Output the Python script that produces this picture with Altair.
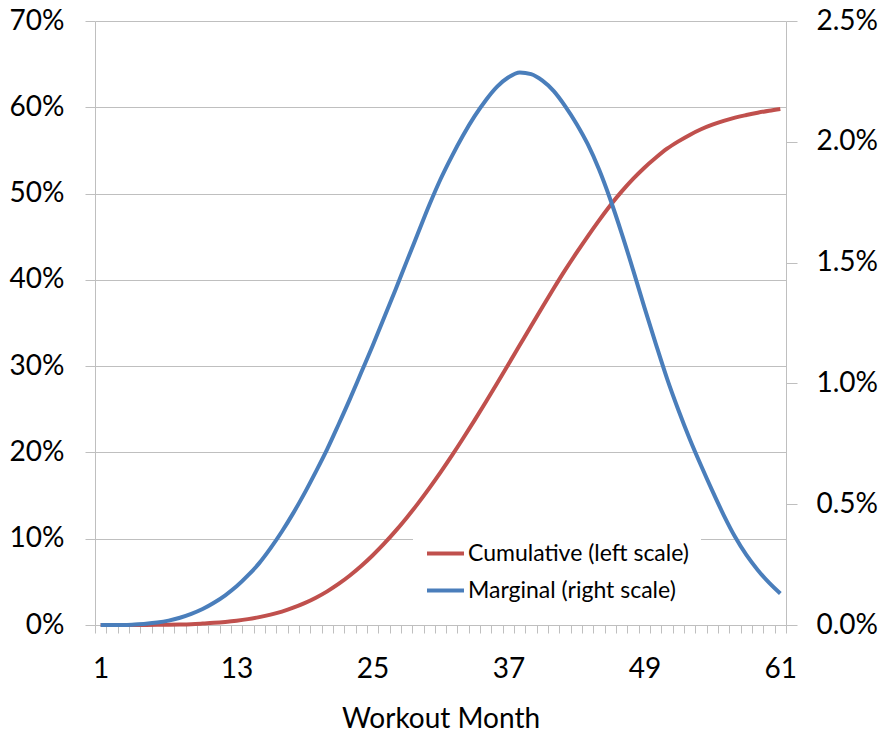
import altair as alt
import pandas as pd

# Workout month index (1..61)
months = list(range(1, 62))

# Cumulative share, percent (left scale)
cumulative_pct = [
    0, 0, 0, 0.005, 0.01, 0.02, 0.035, 0.06, 0.1, 0.17,
    0.25, 0.36, 0.5, 0.68, 0.91, 1.2, 1.56, 2.0, 2.53, 3.16,
    3.9, 4.76, 5.74, 6.84, 8.06, 9.4, 10.85, 12.41, 14.07, 15.83,
    17.68, 19.62, 21.64, 23.72, 25.85, 28.02, 30.22, 32.44, 34.66, 36.86,
    39.02, 41.12, 43.12, 45.05, 46.9, 48.65, 50.25, 51.7, 53.0, 54.15,
    55.2, 56.05, 56.8, 57.45, 57.98, 58.42, 58.8, 59.1, 59.37, 59.6, 59.8,
]

# Marginal share, percent (right scale)
marginal_pct = [
    0, 0, 0, 0.002, 0.005, 0.01, 0.018, 0.03, 0.046, 0.066,
    0.092, 0.123, 0.16, 0.205, 0.256, 0.318, 0.387, 0.463, 0.546, 0.635,
    0.728, 0.83, 0.935, 1.045, 1.155, 1.27, 1.385, 1.503, 1.62, 1.737,
    1.845, 1.94, 2.027, 2.105, 2.172, 2.228, 2.267, 2.287, 2.28, 2.253,
    2.21, 2.148, 2.075, 1.99, 1.885, 1.76, 1.62, 1.47, 1.315, 1.165,
    1.02, 0.89, 0.77, 0.66, 0.555, 0.455, 0.365, 0.29, 0.228, 0.175, 0.13,
]

x_labels = [1, 13, 25, 37, 49, 61]
left_ticks = [0, 0.1, 0.2, 0.3, 0.4, 0.5, 0.6, 0.7]
right_ticks = [0, 0.005, 0.01, 0.015, 0.02, 0.025]
series_names = ["Cumulative (left scale)", "Marginal (right scale)"]
series_colors = ["#C0504D", "#4A7EBB"]

df = pd.DataFrame({
    "month": months,
    "cum": [v / 100 for v in cumulative_pct],
    "marg": [v / 100 for v in marginal_pct],
})

FONT = "Lato"
GRID = "#BFBFBF"
LABEL_SIZE = 28

x_scale = alt.Scale(domain=[0.5, 61.5], nice=False, zero=False)
color_scale = alt.Scale(domain=series_names, range=series_colors)

legend = alt.Legend(
    title=None,
    orient="none",
    legendX=318,
    legendY=500,
    symbolType="stroke",
    symbolSize=1369,
    symbolStrokeWidth=4,
    labelFont=FONT,
    labelFontSize=23,
    labelColor="#000000",
    labelOffset=2,
    labelLimit=0,
    fillColor="white",
    padding=12,
    rowPadding=4,
)

cumulative = (
    alt.Chart(df)
    .transform_calculate(series="'Cumulative (left scale)'")
    .mark_line(strokeWidth=4, interpolate="monotone")
    .encode(
        x=alt.X(
            "month:Q",
            scale=x_scale,
            axis=alt.Axis(
                orient="bottom",
                values=x_labels,
                ticks=False,
                tickSize=0,
                grid=False,
                domainColor=GRID,
                labelFont=FONT,
                labelFontSize=LABEL_SIZE,
                labelColor="#000000",
                labelPadding=30,
                title="Workout Month",
                titleFont=FONT,
                titleFontSize=LABEL_SIZE,
                titleFontWeight="normal",
                titleColor="#000000",
                titlePadding=22,
            ),
        ),
        y=alt.Y(
            "cum:Q",
            scale=alt.Scale(domain=[0, 0.7], nice=False),
            axis=alt.Axis(
                orient="left",
                values=left_ticks,
                format=".0%",
                grid=True,
                gridColor=GRID,
                tickColor=GRID,
                tickSize=10,
                domainColor=GRID,
                labelFont=FONT,
                labelFontSize=LABEL_SIZE,
                labelColor="#000000",
                labelPadding=21,
                title=None,
            ),
        ),
        color=alt.Color("series:N", scale=color_scale, legend=legend),
    )
)

marginal = (
    alt.Chart(df)
    .transform_calculate(series="'Marginal (right scale)'")
    .mark_line(strokeWidth=4, interpolate="monotone")
    .encode(
        x=alt.X(
            "month:Q",
            scale=x_scale,
            axis=alt.Axis(
                orient="bottom",
                values=[m - 0.5 for m in months] + [61.5],
                labels=False,
                ticks=True,
                tickSize=8,
                tickColor=GRID,
                domain=False,
                grid=False,
                title=None,
            ),
        ),
        y=alt.Y(
            "marg:Q",
            scale=alt.Scale(domain=[0, 0.025], nice=False),
            axis=alt.Axis(
                orient="right",
                values=right_ticks,
                format=".1%",
                grid=False,
                tickColor=GRID,
                tickSize=11,
                domainColor=GRID,
                labelFont=FONT,
                labelFontSize=LABEL_SIZE,
                labelColor="#000000",
                labelPadding=19,
                title=None,
            ),
        ),
        color=alt.Color("series:N", scale=color_scale, legend=legend),
    )
)

chart = (
    alt.layer(cumulative, marginal)
    .resolve_scale(y="independent", x="independent")
    .resolve_axis(x="independent", y="independent")
    .properties(
        width=691,
        height=604,
        autosize=alt.AutoSizeParams(type="none"),
        padding={"left": 95, "top": 21, "right": 95, "bottom": 107},
        background="white",
    )
    .configure_view(stroke=None)
)

chart.save("out.html", embed_options={"renderer": "svg", "actions": False})
